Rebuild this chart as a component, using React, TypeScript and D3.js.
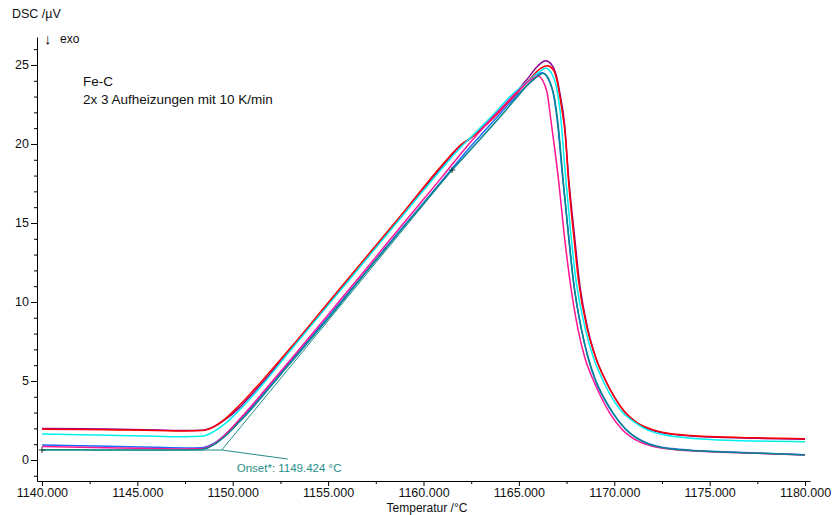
import React, { useEffect, useRef } from "react";
import * as d3 from "d3";

// DSC runs, [temperature °C, signal µV]
const run1Purple = [
  [1140, 2.0], [1142, 1.98], [1144, 1.94], [1146, 1.9], [1147.5, 1.86], [1148.4, 1.88],
  [1149.0, 2.1], [1149.6, 2.55], [1150.3, 3.25], [1151.0, 4.15], [1151.6, 4.95], [1153, 6.95],
  [1155, 9.85], [1157, 12.75], [1159, 15.65], [1161, 18.6], [1161.9, 19.85], [1162.4, 20.3],
  [1163.5, 21.55], [1164.5, 22.8], [1165.5, 24.2], [1166.0, 24.95], [1166.4, 25.27],
  [1166.7, 25.05], [1166.95, 24.4], [1167.15, 23.2], [1167.4, 21.2], [1167.6, 18.0],
  [1167.94, 13.9], [1168.16, 11.4], [1168.63, 8.2], [1169.0, 6.6], [1169.56, 5.0],
  [1170.0, 4.0], [1170.5, 3.1], [1171.17, 2.35], [1172, 1.88], [1172.6, 1.7], [1174, 1.52],
  [1175, 1.45], [1177.5, 1.37], [1180, 1.31],
];
const run2Red = [
  [1140, 1.95], [1142, 1.93], [1144, 1.9], [1146, 1.87], [1147.5, 1.84], [1148.4, 1.86],
  [1149.0, 2.1], [1149.6, 2.6], [1150.3, 3.4], [1151.0, 4.3], [1151.6, 5.1], [1153, 7.05],
  [1155, 9.95], [1157, 12.85], [1159, 15.75], [1161, 18.7], [1162, 20.0], [1162.5, 20.4],
  [1163.5, 21.45], [1164.5, 22.7], [1165.5, 24.0], [1166.1, 24.75], [1166.5, 24.95],
  [1166.8, 24.7], [1167.0, 24.0], [1167.2, 22.6], [1167.45, 20.3], [1167.58, 18.0],
  [1167.9, 13.9], [1168.12, 11.4], [1168.6, 8.2], [1169.0, 6.55], [1169.55, 5.0],
  [1170.0, 4.0], [1170.5, 3.12], [1171.17, 2.38], [1172, 1.92], [1172.6, 1.74], [1174, 1.55],
  [1175, 1.48], [1177.5, 1.4], [1180, 1.35],
];
const run3Cyan = [
  [1140, 1.65], [1142, 1.6], [1144, 1.55], [1146, 1.5], [1147.5, 1.47], [1148.4, 1.5],
  [1149.0, 1.8], [1149.6, 2.3], [1150.3, 3.1], [1151.0, 4.0], [1151.6, 4.83], [1153, 6.9],
  [1155, 9.8], [1157, 12.7], [1159, 15.6], [1161, 18.5], [1162, 19.85], [1162.5, 20.45],
  [1163.0, 21.05], [1163.65, 21.85], [1164.5, 22.95], [1165.5, 24.0], [1166.1, 24.6],
  [1166.4, 24.79], [1166.7, 24.5], [1166.95, 23.7], [1167.15, 22.2], [1167.45, 17.9],
  [1167.7, 14.6], [1167.99, 11.4], [1168.5, 8.2], [1168.9, 6.5], [1169.42, 5.0],
  [1169.9, 3.9], [1170.4, 3.05], [1171.0, 2.45], [1172, 1.78], [1172.6, 1.6], [1174, 1.38],
  [1175, 1.3], [1177.5, 1.2], [1180, 1.16],
];
const run4Blue = [
  [1140, 0.95], [1142, 0.9], [1144, 0.86], [1146, 0.8], [1147.5, 0.76], [1148.4, 0.78],
  [1149.0, 1.05], [1149.6, 1.6], [1150.3, 2.45], [1151.0, 3.35], [1151.6, 4.2], [1152.3, 5.2],
  [1153, 6.2], [1155, 9.05], [1157, 11.95], [1159, 14.85], [1160.16, 16.5], [1161.5, 18.45],
  [1162.3, 19.6], [1163, 20.55], [1164, 21.9], [1165, 23.2], [1165.7, 24.0], [1166.2, 24.5],
  [1166.55, 24.1], [1166.8, 23.2], [1167.0, 21.6], [1167.3, 17.8], [1167.6, 14.3],
  [1167.85, 11.4], [1168.29, 8.2], [1168.6, 6.6], [1169.02, 5.0], [1169.5, 3.8],
  [1169.9, 3.0], [1170.6, 1.95], [1171.4, 1.25], [1172.2, 0.88], [1173, 0.72], [1174, 0.62],
  [1175, 0.56], [1177.5, 0.44], [1180, 0.33],
];
const run5Pink = [
  [1140, 0.85], [1142, 0.8], [1144, 0.76], [1146, 0.72], [1147.5, 0.69], [1148.4, 0.72],
  [1149.0, 1.0], [1149.6, 1.6], [1150.3, 2.5], [1151.0, 3.45], [1151.6, 4.3], [1153, 6.3],
  [1155, 9.2], [1157, 12.1], [1159, 15.05], [1160, 16.5], [1161, 17.95], [1162, 19.45],
  [1163, 20.85], [1164, 22.15], [1165, 23.4], [1165.6, 24.05], [1166.0, 24.3],
  [1166.45, 23.4], [1166.7, 21.3], [1167.08, 17.7], [1167.41, 13.9], [1167.67, 11.4],
  [1168.11, 8.2], [1168.45, 6.5], [1168.9, 5.06], [1169.3, 4.0], [1169.77, 2.95],
  [1170.4, 1.95], [1171.2, 1.22], [1172, 0.86], [1173, 0.68], [1174, 0.58], [1175, 0.52],
  [1177.5, 0.42], [1180, 0.31],
];
const run6Teal = [
  [1140, 0.65], [1142, 0.64], [1144, 0.63], [1146, 0.63], [1147.5, 0.63], [1148.4, 0.66],
  [1149.0, 0.95], [1149.6, 1.5], [1150.3, 2.35], [1151.0, 3.25], [1151.6, 4.1], [1152.3, 5.1],
  [1153, 6.1], [1155, 8.95], [1157, 11.9], [1159, 14.8], [1160.16, 16.46], [1161.5, 18.35],
  [1162.25, 19.35], [1163, 20.35], [1164.18, 21.95], [1165, 23.1], [1165.58, 23.9],
  [1166.0, 24.3], [1166.27, 24.47], [1166.6, 24.0], [1166.85, 23.0], [1167.05, 21.3],
  [1167.32, 17.7], [1167.6, 14.2], [1167.85, 11.4], [1168.29, 8.2], [1168.6, 6.6],
  [1169.02, 5.06], [1169.5, 3.85], [1169.9, 3.05], [1170.6, 1.95], [1171.4, 1.22],
  [1172.2, 0.86], [1173, 0.7], [1174, 0.6], [1175, 0.54], [1177.5, 0.43], [1180, 0.32],
];

const runColors = ["#8b008b", "#ff0000", "#00f0f0", "#1a6cff", "#ff1493", "#00868b"];
const xTickLabels = [1140, 1145, 1150, 1155, 1160, 1165, 1170, 1175, 1180];
const yTickLabels = [0, 5, 10, 15, 20, 25];

// onset evaluation (extrapolated)
const onsetT = 1149.424;
const onsetBase = 0.63;
const tangentEnd = [1161.5, 18.35];

const W = 834;
const H = 515;
const font = "'Liberation Sans', Arial, Helvetica, sans-serif";

export default function App() {
  const ref = useRef<SVGSVGElement>(null);

  useEffect(() => {
    const svg = d3.select(ref.current);
    svg.selectAll("*").remove();

    const x = d3.scaleLinear().domain([1139.74, 1180.26]).range([37, 810]);
    const y = d3.scaleLinear().domain([-1.33, 26.77]).range([481, 37]);

    // axes
    const xAxis = svg.append("g").attr("transform", "translate(0,481)");
    xAxis.call(
      d3.axisBottom(x).tickValues(xTickLabels).tickFormat(d3.format(".3f")).tickSize(5).tickSizeOuter(0).tickPadding(2)
    );
    const xMinor = svg.append("g").attr("transform", "translate(0,481)");
    xMinor.call(
      d3.axisBottom(x).tickValues(d3.range(1142.5, 1180, 5)).tickFormat(() => "").tickSize(3).tickSizeOuter(0)
    );
    xMinor.select(".domain").remove();

    const yAxis = svg.append("g").attr("transform", "translate(37,0)");
    yAxis.call(d3.axisLeft(y).tickValues(yTickLabels).tickSize(6).tickSizeOuter(0).tickPadding(2));
    const yMinor = svg.append("g").attr("transform", "translate(37,0)");
    yMinor.call(
      d3.axisLeft(y).tickValues(d3.range(-1, 27, 1).filter((v) => v % 5 !== 0)).tickFormat(() => "").tickSize(3).tickSizeOuter(0)
    );
    yMinor.select(".domain").remove();

    svg.selectAll(".tick text").attr("font-size", 12.5).attr("font-family", font).attr("fill", "#111");
    svg.selectAll(".domain, .tick line").attr("stroke", "#000");

    // curves
    const line = d3
      .line<number[]>()
      .x((d) => x(d[0]))
      .y((d) => y(d[1]))
      .curve(d3.curveMonotoneX);

    const runs = [run1Purple, run2Red, run3Cyan, run4Blue, run5Pink, run6Teal];
    runs.forEach((run, i) => {
      svg
        .append("path")
        .attr("d", line(run))
        .attr("fill", "none")
        .attr("stroke", runColors[i])
        .attr("stroke-width", 1.5);
    });

    // onset construction
    const onsetColor = "#1f8f8a";
    const ox = x(onsetT);
    const oy = y(onsetBase);
    svg
      .append("path")
      .attr("d", d3.line()([[x(1140), oy], [ox, oy]]))
      .attr("stroke", onsetColor)
      .attr("stroke-width", 1)
      .attr("fill", "none");
    svg
      .append("path")
      .attr("d", d3.line()([[ox, oy], [x(tangentEnd[0]), y(tangentEnd[1])]]))
      .attr("stroke", onsetColor)
      .attr("stroke-width", 1)
      .attr("fill", "none");
    svg
      .append("path")
      .attr("d", d3.line()([[ox, oy], [ox + 66, oy + 9]]))
      .attr("stroke", onsetColor)
      .attr("stroke-width", 1)
      .attr("fill", "none");

    const plus = (px: number, py: number) =>
      svg
        .append("path")
        .attr("d", `M${px - 3},${py}H${px + 3}M${px},${py - 3}V${py + 3}`)
        .attr("stroke", "#1d3a3a")
        .attr("stroke-width", 1);
    plus(x(1140), oy);
    plus(x(tangentEnd[0]), y(tangentEnd[1]));

    svg
      .append("text")
      .attr("x", ox + 15)
      .attr("y", oy + 21.5)
      .attr("font-size", 11.5)
      .attr("fill", onsetColor)
      .text(`Onset*: ${onsetT.toFixed(3)} °C`);

    // labels
    const label = (tx: number, ty: number, s: string, size: number, anchor = "start") =>
      svg
        .append("text")
        .attr("x", tx)
        .attr("y", ty)
        .attr("font-size", size)
        .attr("text-anchor", anchor)
        .attr("fill", "#111")
        .text(s);
    label(12, 18, "DSC /µV", 12.5);
    label(44, 44, "↓", 15);
    label(60, 43, "exo", 12);
    label(83, 86, "Fe-C", 13.5);
    label(83, 103.5, "2x 3 Aufheizungen mit 10 K/min", 13.5);
    label(427, 511.5, "Temperatur /°C", 12, "middle");
  }, []);

  return (
    <svg
      ref={ref}
      width={W}
      height={H}
      fontFamily={font}
      style={{ position: "absolute", left: 0, top: 0, background: "#fff" }}
    />
  );
}
